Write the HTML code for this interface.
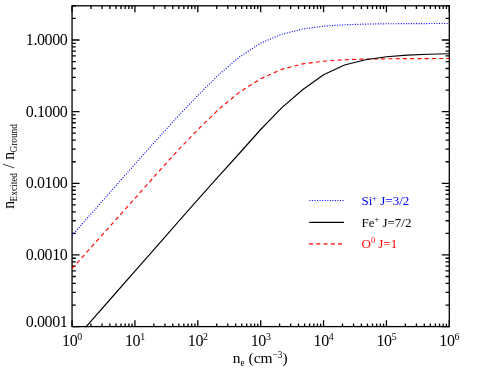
<!DOCTYPE html>
<html><head><meta charset="utf-8"><title>plot</title>
<style>
html,body{margin:0;padding:0;background:#fff;}
body{width:498px;height:378px;overflow:hidden;}
svg{display:block;will-change:transform;}
text{font-family:"Liberation Serif",serif;}
</style></head><body>
<svg width="498" height="378" viewBox="0 0 498 378">
<rect width="498" height="378" fill="#fff"/>
<defs><clipPath id="c"><rect x="71.40" y="5.15" width="378.55" height="322.10"/></clipPath></defs>
<path d="M72.05 326.60V320.20 M72.05 5.80V12.20 M90.98 326.60V323.40 M90.98 5.80V9.00 M102.05 326.60V323.40 M102.05 5.80V9.00 M109.90 326.60V323.40 M109.90 5.80V9.00 M116.00 326.60V323.40 M116.00 5.80V9.00 M120.98 326.60V323.40 M120.98 5.80V9.00 M125.19 326.60V323.40 M125.19 5.80V9.00 M128.83 326.60V323.40 M128.83 5.80V9.00 M132.05 326.60V323.40 M132.05 5.80V9.00 M134.93 326.60V320.20 M134.93 5.80V12.20 M153.85 326.60V323.40 M153.85 5.80V9.00 M164.92 326.60V323.40 M164.92 5.80V9.00 M172.78 326.60V323.40 M172.78 5.80V9.00 M178.87 326.60V323.40 M178.87 5.80V9.00 M183.85 326.60V323.40 M183.85 5.80V9.00 M188.06 326.60V323.40 M188.06 5.80V9.00 M191.71 326.60V323.40 M191.71 5.80V9.00 M194.92 326.60V323.40 M194.92 5.80V9.00 M197.80 326.60V320.20 M197.80 5.80V12.20 M216.73 326.60V323.40 M216.73 5.80V9.00 M227.80 326.60V323.40 M227.80 5.80V9.00 M235.65 326.60V323.40 M235.65 5.80V9.00 M241.75 326.60V323.40 M241.75 5.80V9.00 M246.73 326.60V323.40 M246.73 5.80V9.00 M250.94 326.60V323.40 M250.94 5.80V9.00 M254.58 326.60V323.40 M254.58 5.80V9.00 M257.80 326.60V323.40 M257.80 5.80V9.00 M260.68 326.60V320.20 M260.68 5.80V12.20 M279.60 326.60V323.40 M279.60 5.80V9.00 M290.67 326.60V323.40 M290.67 5.80V9.00 M298.53 326.60V323.40 M298.53 5.80V9.00 M304.62 326.60V323.40 M304.62 5.80V9.00 M309.60 326.60V323.40 M309.60 5.80V9.00 M313.81 326.60V323.40 M313.81 5.80V9.00 M317.46 326.60V323.40 M317.46 5.80V9.00 M320.67 326.60V323.40 M320.67 5.80V9.00 M323.55 326.60V320.20 M323.55 5.80V12.20 M342.48 326.60V323.40 M342.48 5.80V9.00 M353.55 326.60V323.40 M353.55 5.80V9.00 M361.40 326.60V323.40 M361.40 5.80V9.00 M367.50 326.60V323.40 M367.50 5.80V9.00 M372.48 326.60V323.40 M372.48 5.80V9.00 M376.69 326.60V323.40 M376.69 5.80V9.00 M380.33 326.60V323.40 M380.33 5.80V9.00 M383.55 326.60V323.40 M383.55 5.80V9.00 M386.43 326.60V320.20 M386.43 5.80V12.20 M405.35 326.60V323.40 M405.35 5.80V9.00 M416.42 326.60V323.40 M416.42 5.80V9.00 M424.28 326.60V323.40 M424.28 5.80V9.00 M430.37 326.60V323.40 M430.37 5.80V9.00 M435.35 326.60V323.40 M435.35 5.80V9.00 M439.56 326.60V323.40 M439.56 5.80V9.00 M443.21 326.60V323.40 M443.21 5.80V9.00 M446.42 326.60V323.40 M446.42 5.80V9.00 M449.30 326.60V320.20 M449.30 5.80V12.20 M72.05 326.60H79.55 M449.30 326.60H441.80 M72.05 305.03H75.80 M449.30 305.03H445.55 M72.05 292.41H75.80 M449.30 292.41H445.55 M72.05 283.46H75.80 M449.30 283.46H445.55 M72.05 276.52H75.80 M449.30 276.52H445.55 M72.05 270.85H75.80 M449.30 270.85H445.55 M72.05 266.05H75.80 M449.30 266.05H445.55 M72.05 261.89H75.80 M449.30 261.89H445.55 M72.05 258.23H75.80 M449.30 258.23H445.55 M72.05 254.95H79.55 M449.30 254.95H441.80 M72.05 233.38H75.80 M449.30 233.38H445.55 M72.05 220.76H75.80 M449.30 220.76H445.55 M72.05 211.81H75.80 M449.30 211.81H445.55 M72.05 204.87H75.80 M449.30 204.87H445.55 M72.05 199.20H75.80 M449.30 199.20H445.55 M72.05 194.40H75.80 M449.30 194.40H445.55 M72.05 190.24H75.80 M449.30 190.24H445.55 M72.05 186.58H75.80 M449.30 186.58H445.55 M72.05 183.30H79.55 M449.30 183.30H441.80 M72.05 161.73H75.80 M449.30 161.73H445.55 M72.05 149.11H75.80 M449.30 149.11H445.55 M72.05 140.16H75.80 M449.30 140.16H445.55 M72.05 133.22H75.80 M449.30 133.22H445.55 M72.05 127.55H75.80 M449.30 127.55H445.55 M72.05 122.75H75.80 M449.30 122.75H445.55 M72.05 118.59H75.80 M449.30 118.59H445.55 M72.05 114.93H75.80 M449.30 114.93H445.55 M72.05 111.65H79.55 M449.30 111.65H441.80 M72.05 90.08H75.80 M449.30 90.08H445.55 M72.05 77.46H75.80 M449.30 77.46H445.55 M72.05 68.51H75.80 M449.30 68.51H445.55 M72.05 61.57H75.80 M449.30 61.57H445.55 M72.05 55.90H75.80 M449.30 55.90H445.55 M72.05 51.10H75.80 M449.30 51.10H445.55 M72.05 46.94H75.80 M449.30 46.94H445.55 M72.05 43.28H75.80 M449.30 43.28H445.55 M72.05 40.00H79.55 M449.30 40.00H441.80 M72.05 18.43H75.80 M449.30 18.43H445.55 M72.05 5.81H75.80 M449.30 5.81H445.55" stroke="#000" stroke-width="1.30" fill="none"/>
<rect x="72.05" y="5.80" width="377.25" height="320.80" fill="none" stroke="#000" stroke-width="1.30"/>
<g clip-path="url(#c)" fill="none" stroke-width="1.15" stroke-linejoin="round">
<path d="M72.05 235.49 L93.01 211.65 L113.97 187.85 L134.93 164.15 L155.88 140.65 L176.84 117.59 L197.80 95.40 L218.76 74.69 L239.72 56.83 L260.68 43.10 L281.63 34.24 L302.59 29.05 L323.55 26.19 L344.51 24.77 L365.47 24.09 L386.43 23.77 L407.38 23.62 L428.34 23.55 L449.30 23.52" stroke="#0000ff" stroke-dasharray="1 1.55"/>
<path d="M72.05 268.72 L93.01 245.18 L113.97 221.79 L134.93 198.30 L155.88 174.72 L176.84 151.51 L197.80 129.62 L218.76 109.27 L239.72 92.02 L260.68 78.78 L281.63 69.33 L302.59 63.88 L323.55 61.26 L344.51 59.72 L365.47 59.07 L386.43 58.77 L407.38 58.63 L428.34 58.56 L449.30 58.53" stroke="#ff0000" stroke-dasharray="4.06 3.2"/>
<path d="M72.05 342.76 L93.01 318.88 L113.97 295.00 L134.93 271.13 L155.88 247.28 L176.84 223.47 L197.80 199.74 L218.76 176.18 L239.72 152.99 L260.68 129.50 L281.63 107.90 L302.59 89.80 L323.55 74.80 L344.51 65.00 L365.47 59.70 L386.43 56.80 L407.38 55.10 L428.34 54.20 L449.30 53.70" stroke="#000"/>
</g>
<text x="67.3" y="45.05" font-size="16.00" letter-spacing="-0.42" text-anchor="end">1.0000</text>
<text x="67.3" y="116.70" font-size="16.00" letter-spacing="-0.42" text-anchor="end">0.1000</text>
<text x="67.3" y="188.35" font-size="16.00" letter-spacing="-0.42" text-anchor="end">0.0100</text>
<text x="67.3" y="260.00" font-size="16.00" letter-spacing="-0.42" text-anchor="end">0.0010</text>
<text x="67.3" y="326.90" font-size="16.00" letter-spacing="-0.42" text-anchor="end">0.0001</text>
<text x="71.95" y="346.3" font-size="16.00" letter-spacing="-0.42" text-anchor="middle">10<tspan font-size="9.90" dy="-6.7">0</tspan></text>
<text x="134.83" y="346.3" font-size="16.00" letter-spacing="-0.42" text-anchor="middle">10<tspan font-size="9.90" dy="-6.7">1</tspan></text>
<text x="197.70" y="346.3" font-size="16.00" letter-spacing="-0.42" text-anchor="middle">10<tspan font-size="9.90" dy="-6.7">2</tspan></text>
<text x="260.57" y="346.3" font-size="16.00" letter-spacing="-0.42" text-anchor="middle">10<tspan font-size="9.90" dy="-6.7">3</tspan></text>
<text x="323.45" y="346.3" font-size="16.00" letter-spacing="-0.42" text-anchor="middle">10<tspan font-size="9.90" dy="-6.7">4</tspan></text>
<text x="386.32" y="346.3" font-size="16.00" letter-spacing="-0.42" text-anchor="middle">10<tspan font-size="9.90" dy="-6.7">5</tspan></text>
<text x="449.20" y="346.3" font-size="16.00" letter-spacing="-0.42" text-anchor="middle">10<tspan font-size="9.90" dy="-6.7">6</tspan></text>
<text x="260.2" y="363.4" font-size="15.50" text-anchor="middle">n<tspan font-size="9.30" dy="3">e</tspan><tspan dy="-3"> (cm</tspan><tspan font-size="9.30" dy="-5.7">−3</tspan><tspan dy="5.7">)</tspan></text>
<text transform="translate(13.6,208.5) rotate(-90)" font-size="15.80"><tspan x="-0.25" y="0">n</tspan><tspan x="7.1" y="3.4" font-size="9.30">Excited</tspan><tspan x="40.3" y="0">/</tspan><tspan x="48.75" y="0">n</tspan><tspan x="56.0" y="3.4" font-size="9.30">Ground</tspan></text>
<g fill="none" stroke-width="1.20">
<path d="M309.4 200.5H343.9" stroke="#0000ff" stroke-dasharray="1 1.55"/>
<path d="M309.2 222.35H344.0" stroke="#000"/>
<path d="M309.0 243.8H343.9" stroke="#ff0000" stroke-dasharray="4.06 3.2"/>
</g>
<text x="361.5" y="205.10" font-size="13.00" fill="#0000ff">Si<tspan font-size="8.32" dy="-4.6">+</tspan><tspan dy="4.6"> J=3/2</tspan></text>
<text x="361.5" y="226.70" font-size="13.00" fill="#000">Fe<tspan font-size="8.32" dy="-4.6">+</tspan><tspan dy="4.6"> J=7/2</tspan></text>
<text x="361.5" y="247.80" font-size="13.00" fill="#ff0000">O<tspan font-size="8.32" dy="-5.0">0</tspan><tspan dy="5.0"> J=1</tspan></text>
</svg></body></html>
